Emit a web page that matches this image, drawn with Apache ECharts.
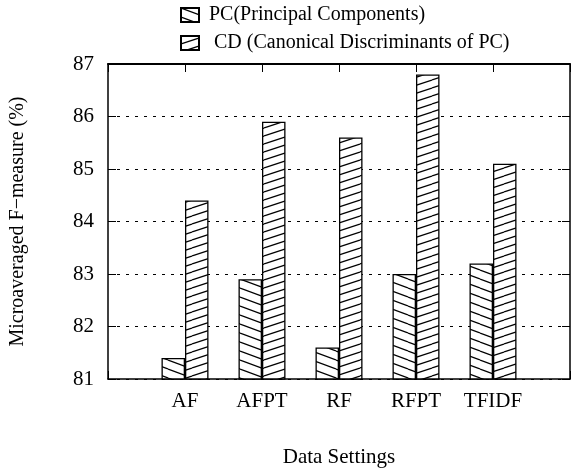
<!DOCTYPE html>
<html>
<head>
<meta charset="utf-8">
<script src="https://cdn.jsdelivr.net/npm/echarts@6/dist/echarts.min.js"></script>
<style>
  html, body { margin: 0; padding: 0; background: #fff; }
  #chart { width: 573px; height: 473px; }
</style>
</head>
<body>
<div id="chart"></div>
<script>
// data settings on the x axis
var categories = ['AF', 'AFPT', 'RF', 'RFPT', 'TFIDF'];
// PC (Principal Components)
var pcValues = [81.4, 82.9, 81.6, 83.0, 83.2];
// CD (Canonical Discriminants of PC)
var cdValues = [84.4, 85.9, 85.6, 86.8, 85.1];
var yTicks = [81, 82, 83, 84, 85, 86, 87];

// hatch tile, dir 1 = "\" , dir -1 = "/"
function hatch(w, h, dir) {
    var c = document.createElement('canvas');
    c.width = w;
    c.height = h;
    var ctx = c.getContext('2d');
    ctx.fillStyle = '#fff';
    ctx.fillRect(0, 0, w, h);
    ctx.strokeStyle = '#000';
    ctx.lineWidth = 1.2;
    for (var k = -1; k <= 1; k++) {
        ctx.beginPath();
        if (dir > 0) {
            ctx.moveTo(0, k * h);
            ctx.lineTo(w, (k + 1) * h);
        } else {
            ctx.moveTo(0, (k + 1) * h);
            ctx.lineTo(w, k * h);
        }
        ctx.stroke();
    }
    return c;
}

function toPairs(vals) {
    return vals.map(function (v, i) { return [i, v]; });
}

var fontFam = '"Liberation Serif", "DejaVu Serif", serif';
var axisCol = '#000';

var myChart = echarts.init(document.getElementById('chart'));
var option = {
    animation: false,
    backgroundColor: '#fff',
    textStyle: { fontFamily: fontFam, color: '#000' },
    legend: {
        orient: 'vertical',
        left: 175,
        top: 0,
        icon: 'rect',
        itemWidth: 18,
        itemHeight: 14,
        itemGap: 8,
        textStyle: { fontFamily: fontFam, fontSize: 20, lineHeight: 20, color: '#000', padding: [0, 0, 0, 5] },
        data: ['PC(Principal Components)', ' CD (Canonical Discriminants of PC)']
    },
    grid: { left: 107, right: 2, top: 64, bottom: 92 },
    xAxis: [
        {
            type: 'value',
            min: -1,
            max: 5,
            interval: 1,
            name: 'Data Settings',
            nameLocation: 'middle',
            nameGap: 68,
            nameTextStyle: { fontFamily: fontFam, fontSize: 21, color: '#000' },
            axisLine: { show: true, onZero: false, lineStyle: { color: axisCol, width: 1.5 } },
            axisTick: { show: true, inside: true, length: 8, lineStyle: { color: axisCol } },
            axisLabel: {
                fontFamily: fontFam, fontSize: 21, color: '#000', margin: 12,
                formatter: function (v) { return categories[v] || ''; }
            },
            splitLine: { show: false }
        },
        {
            type: 'value',
            position: 'top',
            min: -1,
            max: 5,
            interval: 1,
            axisLine: { show: true, onZero: false, lineStyle: { color: axisCol, width: 2 } },
            axisTick: { show: true, inside: true, length: 8, lineStyle: { color: axisCol } },
            axisLabel: { show: false },
            splitLine: { show: false }
        }
    ],
    yAxis: [
        {
            type: 'value',
            min: yTicks[0],
            max: yTicks[yTicks.length - 1],
            interval: 1,
            name: 'Microaveraged F\u2212measure (%)',
            nameLocation: 'middle',
            nameGap: 80,
            nameTextStyle: { fontFamily: fontFam, fontSize: 20, color: '#000' },
            axisLine: { show: true, onZero: false, lineStyle: { color: axisCol, width: 1.5 } },
            axisTick: { show: true, inside: true, length: 8, lineStyle: { color: axisCol } },
            axisLabel: { fontFamily: fontFam, fontSize: 21, color: '#000', margin: 14 },
            splitLine: { show: true, lineStyle: { color: '#000', width: 1, type: [3, 6] } }
        },
        {
            type: 'value',
            position: 'right',
            min: yTicks[0],
            max: yTicks[yTicks.length - 1],
            interval: 1,
            axisLine: { show: true, onZero: false, lineStyle: { color: axisCol, width: 1.5 } },
            axisTick: { show: true, inside: true, length: 8, lineStyle: { color: axisCol } },
            axisLabel: { show: false },
            splitLine: { show: false }
        }
    ],
    series: [
        {
            name: 'PC(Principal Components)',
            type: 'bar',
            barWidth: 23.5,
            barGap: '0%',
            data: toPairs(pcValues),
            itemStyle: {
                color: { image: hatch(24, 9, 1), repeat: 'repeat' },
                borderColor: '#000',
                borderWidth: 1.3
            }
        },
        {
            name: ' CD (Canonical Discriminants of PC)',
            type: 'bar',
            barWidth: 23.5,
            barGap: '0%',
            data: toPairs(cdValues),
            itemStyle: {
                color: { image: hatch(24, 8, -1), repeat: 'repeat' },
                borderColor: '#000',
                borderWidth: 1.3
            }
        }
    ]
};
myChart.setOption(option);
</script>
</body>
</html>
